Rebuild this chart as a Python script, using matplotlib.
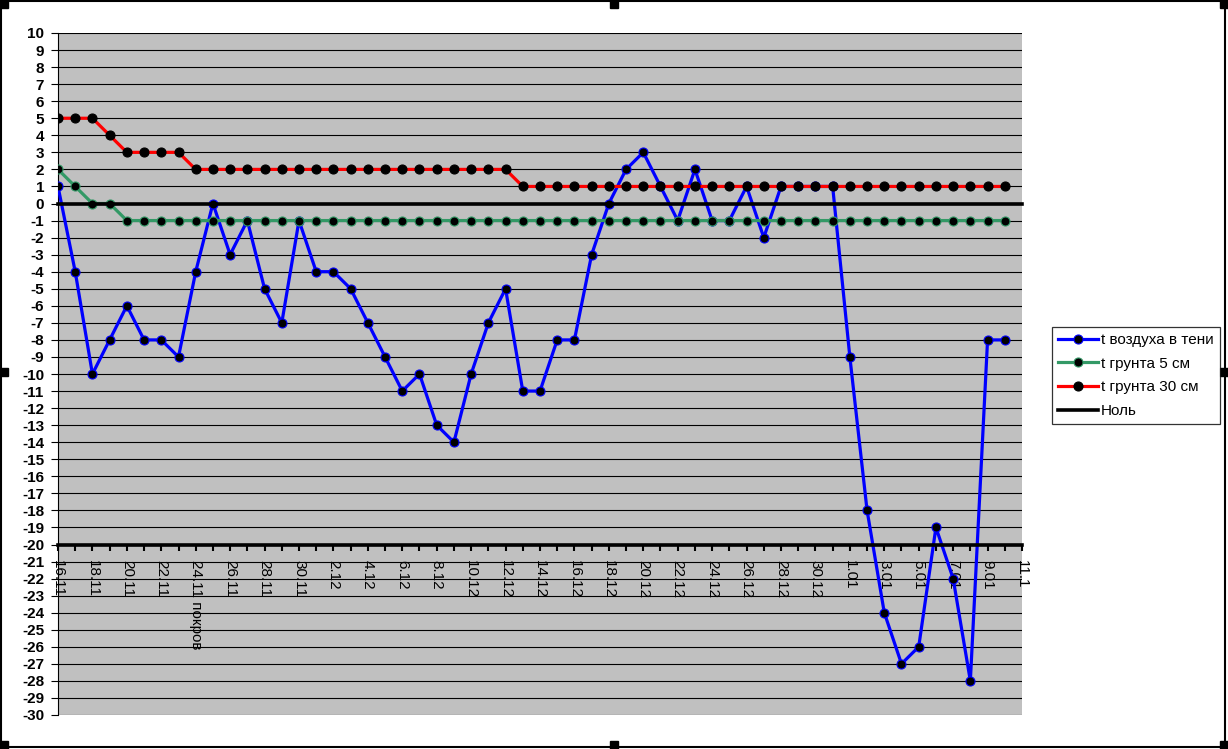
import numpy as np
import matplotlib
matplotlib.use('Agg')
import matplotlib.pyplot as plt
from matplotlib.patches import Rectangle

plt.rcParams['font.family'] = ['Liberation Sans', 'DejaVu Sans']
plt.rcParams['axes.unicode_minus'] = False

# dates 16.11 .. 11.01
dates = ["16.11", "17.11", "18.11", "19.11", "20.11", "21.11", "22.11", "23.11",
         "24.11", "25.11", "26.11", "27.11", "28.11", "29.11", "30.11",
         "1.12", "2.12", "3.12", "4.12", "5.12", "6.12", "7.12", "8.12", "9.12",
         "10.12", "11.12", "12.12", "13.12", "14.12", "15.12", "16.12", "17.12",
         "18.12", "19.12", "20.12", "21.12", "22.12", "23.12", "24.12", "25.12",
         "26.12", "27.12", "28.12", "29.12", "30.12", "31.12",
         "1.01", "2.01", "3.01", "4.01", "5.01", "6.01", "7.01", "8.01", "9.01",
         "10.01", "11.1"]
note_date = "24.11"
note_text = "покров"

air = [1, -4, -10, -8, -6, -8, -8, -9, -4, 0, -3, -1, -5, -7, -1,
       -4, -4, -5, -7, -9, -11, -10, -13, -14, -10, -7, -5, -11, -11, -8, -8, -3,
       0, 2, 3, 1, -1, 2, -1, -1, 1, -2, 1, 1, 1, 1,
       -9, -18, -24, -27, -26, -19, -22, -28, -8, -8, np.nan]
soil5 = [2, 1, 0, 0] + [-1] * 52 + [np.nan]
soil30 = [5, 5, 5, 4, 3, 3, 3, 3] + [2] * 19 + [1] * 29 + [np.nan]
zero = [0] * 57

W, H = 1228, 749
fig = plt.figure(figsize=(W / 100, H / 100), dpi=100)
ax = fig.add_axes([58 / W, (H - 715) / H, (1022 - 58) / W, (715 - 33) / H])
ax.set_facecolor('#C0C0C0')

# spines first (set_position resets the ticks)
ax.spines['top'].set_visible(False)
ax.spines['right'].set_visible(False)
ax.spines['left'].set_linewidth(0.8)
ax.spines['bottom'].set_position(('data', -20))
ax.spines['bottom'].set_linewidth(2.6)
ax.spines['bottom'].set_zorder(7)

x = np.arange(len(dates))
lw = 2.3
ms = 6.5
l1, = ax.plot(x, air, color='#0000FF', lw=lw, marker='o', ms=ms,
              mfc='black', mec='#0000FF', mew=0.8, zorder=3)
l2, = ax.plot(x, soil5, color='#339966', lw=lw, marker='o', ms=ms,
              mfc='black', mec='#339966', mew=0.8, zorder=4)
l3, = ax.plot(x, soil30, color='#FF0000', lw=lw, marker='o', ms=ms,
              mfc='black', mec='black', mew=0.8, zorder=5)
l4, = ax.plot(x, zero, color='black', lw=2.6, zorder=6, clip_on=False)

ax.set_xlim(0, len(dates) - 1)
ax.set_ylim(-30, 10)

ax.set_yticks(np.arange(-30, 11, 1))
ax.set_yticklabels([str(v) for v in range(-30, 11)], fontsize=11, fontweight='bold')
ax.yaxis.grid(True, color='black', lw=0.8)
ax.set_axisbelow(True)

labels = []
for i, d in enumerate(dates):
    if i % 2 == 0:
        labels.append(d + " " + note_text if d == note_date else d)
ax.set_xticks(x[::2])
ax.set_xticks(x[1::2], minor=True)
ax.tick_params(axis='x', which='both', direction='out', length=4, width=1.5, pad=7)
ax.tick_params(axis='y', direction='out', length=5, width=0.8, pad=5)
ax.set_xticklabels(labels, rotation=-90, fontsize=11, ha='center', va='top',
                   rotation_mode='default')

leg = fig.legend([l1, l2, l3, l4], ["t воздуха в тени", "t грунта 5 см", "t грунта 30 см", "Ноль"],
                 loc='upper left', bbox_to_anchor=(1052 / W, 1 - 327 / H),
                 fontsize=11, frameon=True, fancybox=False, handlelength=2.6,
                 handletextpad=0.2, labelspacing=0.63, borderpad=0.4,
                 borderaxespad=0)
leg.get_frame().set_edgecolor('black')
leg.get_frame().set_linewidth(0.9)

# chart border and selection handles
fig.patches.append(Rectangle((1 / W, 2 / H), 1224 / W, 746 / H, transform=fig.transFigure,
                             fill=False, edgecolor='black', lw=1.5))
s = 8
for hx, hy in [(0, 0), (610, 0), (W - s, 0), (0, 368), (W - s, 368),
               (0, H - s), (610, H - s), (W - s, H - s)]:
    fig.patches.append(Rectangle((hx / W, (H - hy - s) / H), s / W, s / H,
                                 transform=fig.transFigure, color='black'))

fig.savefig('out.png', dpi=100)
